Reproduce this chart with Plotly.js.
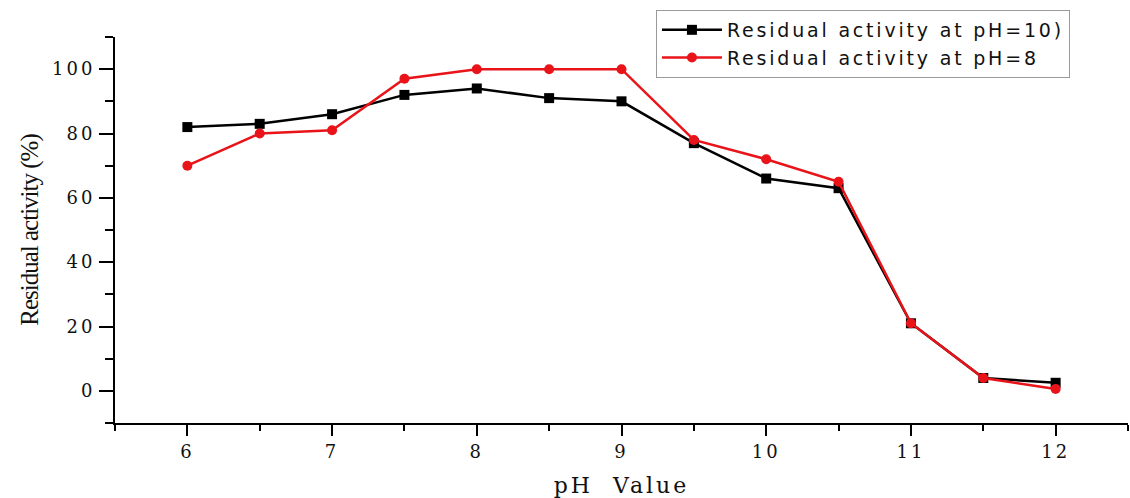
<!DOCTYPE html>
<html>
<head>
<meta charset="utf-8">
<script src="https://cdn.plot.ly/plotly-3.0.1.min.js"></script>
<style>
html,body{margin:0;padding:0;background:#fff;}
#chart{width:1130px;height:498px;}
.legendtext{letter-spacing:2.8px;}
.xtick text,.ytick text{letter-spacing:3px;}
.g-xtitle text{letter-spacing:3px;}
.g-ytitle text{letter-spacing:-1px;}
</style>
</head>
<body>
<div id="chart"></div>
<script>
const phValues = [6, 6.5, 7, 7.5, 8, 8.5, 9, 9.5, 10, 10.5, 11, 11.5, 12];
const activityPH10 = [82, 83, 86, 92, 94, 91, 90, 77, 66, 63, 21, 4, 2.5];
const activityPH8 = [70, 80, 81, 97, 100, 100, 100, 78, 72, 65, 21, 4, 0.6];
const seriesNames = ['Residual activity at pH=10)', 'Residual activity at pH=8'];
const xTickVals = [6, 7, 8, 9, 10, 11, 12];
const yTickVals = [0, 20, 40, 60, 80, 100];

const traces = [
  {x: phValues, y: activityPH10, name: seriesNames[0], type: 'scatter', mode: 'lines+markers',
   line: {color: '#000000', width: 2.5}, marker: {symbol: 'square', size: 10, color: '#000000'}},
  {x: phValues, y: activityPH8, name: seriesNames[1], type: 'scatter', mode: 'lines+markers',
   line: {color: '#e8141a', width: 2.5}, marker: {symbol: 'circle', size: 10, color: '#e8141a'}}
];

const wideSerif = 'DejaVu Serif, serif';
const serif = 'Liberation Serif, Times New Roman, serif';
const layout = {
  width: 1130, height: 498,
  margin: {l: 115, r: 2, t: 37, b: 75},
  paper_bgcolor: '#ffffff', plot_bgcolor: '#ffffff',
  showlegend: true,
  legend: {x: 0.534, y: 1.07, xanchor: 'left', yanchor: 'top',
    bordercolor: '#9a9a9a', borderwidth: 1, bgcolor: 'rgba(255,255,255,0)',
    font: {family: 'DejaVu Sans, sans-serif', size: 19, color: '#111'},
    tracegroupgap: 0, itemwidth: 60},
  xaxis: {
    range: [5.5, 12.5], tickvals: xTickVals, ticktext: xTickVals.map(String),
    ticks: 'outside', ticklen: 11, tickwidth: 2, tickcolor: '#000',
    minor: {dtick: 0.5, tick0: 5.5, ticks: 'outside', ticklen: 6, tickwidth: 2, tickcolor: '#000'},
    showline: true, linecolor: '#000', linewidth: 2, showgrid: false, zeroline: false,
    tickfont: {family: wideSerif, size: 18, color: '#111'},
    title: {text: 'pH  Value', font: {family: wideSerif, size: 22, color: '#111'}, standoff: 18}
  },
  yaxis: {
    range: [-10, 110], tickvals: yTickVals, ticktext: yTickVals.map(String),
    ticks: 'outside', ticklen: 14, tickwidth: 2, tickcolor: '#000',
    minor: {dtick: 10, tick0: -10, ticks: 'outside', ticklen: 8, tickwidth: 2, tickcolor: '#000'},
    showline: true, linecolor: '#000', linewidth: 2, showgrid: false, zeroline: false,
    tickfont: {family: wideSerif, size: 18, color: '#111'},
    title: {text: 'Residual activity (%)', font: {family: serif, size: 25, color: '#111'}, standoff: 6}
  }
};
Plotly.newPlot('chart', traces, layout, {displayModeBar: false, staticPlot: true});
</script>
</body>
</html>
